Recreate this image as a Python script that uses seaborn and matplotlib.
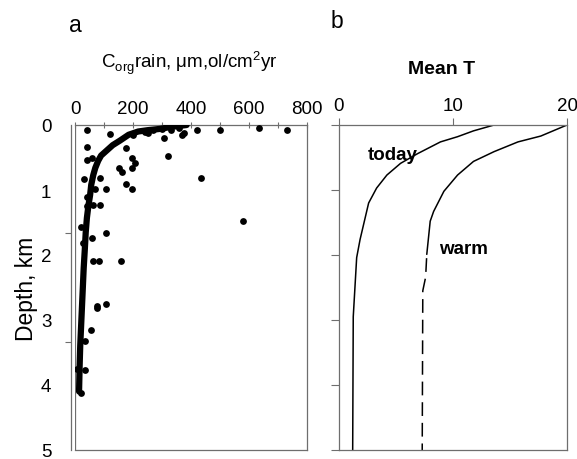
import numpy as np
import pandas as pd
import matplotlib
matplotlib.use("Agg")
import matplotlib.pyplot as plt
import seaborn as sns

sns.set_theme(style="white")
plt.rcParams["font.family"] = ["Liberation Sans", "DejaVu Sans"]
plt.rcParams["mathtext.fontset"] = "custom"
plt.rcParams["mathtext.rm"] = "Liberation Sans"
plt.rcParams["text.color"] = "black"
plt.rcParams["axes.labelcolor"] = "black"
plt.rcParams["xtick.labelcolor"] = "black"
plt.rcParams["ytick.labelcolor"] = "black"

# ---- panel a: Corg rain vs depth ----
# thick fitted curve
fit_rain = [385, 330, 293, 250, 218, 185, 155, 130, 110, 90, 80, 70, 63, 56,
            52, 46, 41, 37, 34, 30, 27, 24, 21, 18, 16, 14]
fit_depth = [0.0, 0.03, 0.06, 0.08, 0.10, 0.15, 0.24, 0.31, 0.39, 0.47, 0.55,
             0.66, 0.77, 0.92, 1.08, 1.25, 1.43, 1.65, 1.90, 2.20, 2.50, 2.80,
             3.10, 3.40, 3.70, 4.10]

# scattered observations
obs_rain = [40, 121, 420, 501, 636, 731, 368, 307, 176, 40, 321, 196, 40, 60,
            152, 161, 207, 196, 435, 31, 86, 175, 196, 107, 70, 40, 40, 86, 63,
            579, 20, 107, 27, 58, 61, 83, 159, 107, 76, 77, 55, 35, 6, 35, 20,
            240, 270, 300, 330, 360, 375, 250, 200]
obs_depth = [0.08, 0.14, 0.08, 0.08, 0.05, 0.08, 0.16, 0.20, 0.35, 0.34, 0.47,
             0.50, 0.54, 0.50, 0.66, 0.72, 0.59, 0.66, 0.81, 0.83, 0.82, 0.90,
             0.99, 0.99, 0.99, 1.10, 1.24, 1.23, 1.23, 1.48, 1.57, 1.66, 1.81,
             1.74, 2.09, 2.09, 2.09, 2.75, 2.78, 2.82, 3.15, 3.33, 3.76, 3.77,
             4.13, 0.10, 0.07, 0.06, 0.08, 0.05, 0.12, 0.12, 0.15]

# ---- panel b: mean temperature profiles ----
today_T = [13.6, 11.8, 10.4, 8.9, 6.9, 5.4, 4.2, 3.3, 2.6, 1.85, 1.55, 1.25, 1.2]
today_depth = [0.0, 0.09, 0.18, 0.26, 0.44, 0.59, 0.77, 0.97, 1.20, 1.76,
               2.04, 2.95, 5.0]

warm_T = [20.0, 17.7, 15.7, 13.6, 11.8, 10.4, 9.2, 8.3, 8.0, 7.7]
warm_depth = [0.0, 0.17, 0.26, 0.41, 0.56, 0.77, 1.02, 1.33, 1.48, 1.99]
warm_deep_T = [7.7, 7.6, 7.35, 7.3]
warm_deep_depth = [1.99, 2.34, 2.55, 5.0]

rain_ticks = [0, 200, 400, 600, 800]
depth_ticks = [0, 1, 2, 3, 4, 5]
temp_ticks = [0, 10, 20]

spine_col = "#6e6e6e"

fig = plt.figure(figsize=(5.77, 4.6), dpi=100)
ax_a = fig.add_axes([75/577, 9/460, 232/577, 325/460])
ax_b = fig.add_axes([339/577, 9/460, 228/577, 325/460])

# panel a
sns.scatterplot(x=obs_rain, y=obs_depth, ax=ax_a, color="black", s=24,
                linewidth=0, zorder=3)
sns.lineplot(x=fit_rain, y=fit_depth, ax=ax_a, sort=False, estimator=None,
             color="black", lw=4.5, zorder=4)
ax_a.set_xlim(0, 800)
ax_a.set_ylim(5, 0)
ax_a.xaxis.tick_top()
ax_a.set_xticks(rain_ticks)
ax_a.set_xticks([100, 300, 500, 700], minor=True)
ax_a.set_yticks(depth_ticks)
ax_a.set_yticks([0, 5/3, 10/3, 5], minor=True)
ax_a.tick_params(axis="x", which="both", top=True, direction="inout",
                 length=5, width=0.8, color=spine_col, labelsize=13.5, pad=3)
ax_a.tick_params(axis="y", which="major", left=True, length=0, labelsize=13.5,
                 pad=14)
ax_a.tick_params(axis="y", which="minor", left=True, direction="out",
                 length=4, width=0.8, color=spine_col)
for lab in ax_a.get_yticklabels():
    lab.set_verticalalignment("center_baseline")
ax_a.spines["left"].set_position(("outward", 3))
ax_a.axvline(0, color=spine_col, lw=0.9)
for s in ax_a.spines.values():
    s.set_color(spine_col)
    s.set_linewidth(0.9)
ax_a.set_ylabel("Depth, km", fontsize=16.5, labelpad=2)

# panel b
sns.lineplot(x=today_T, y=today_depth, ax=ax_b, sort=False, estimator=None,
             color="black", lw=1.1)
sns.lineplot(x=warm_T, y=warm_depth, ax=ax_b, sort=False, estimator=None,
             color="black", lw=1.1)
sns.lineplot(x=warm_deep_T, y=warm_deep_depth, ax=ax_b, sort=False,
             estimator=None, color="black", lw=1.1, ls=(11, (9, 4.5)))
ax_b.set_xlim(0, 20)
ax_b.set_ylim(5, 0)
ax_b.xaxis.tick_top()
ax_b.set_xticks(temp_ticks)
ax_b.set_yticks(depth_ticks)
ax_b.set_yticklabels([])
ax_b.tick_params(axis="x", top=True, direction="out", length=5, width=0.8,
                 color=spine_col, labelsize=13.5, pad=3)
ax_b.tick_params(axis="y", left=True, direction="out", length=6, width=0.8,
                 color=spine_col)
for s in ax_b.spines.values():
    s.set_color(spine_col)
    s.set_linewidth(0.9)
ax_b.text(4.7, 0.46, "today", fontsize=13.5, fontweight="bold",
          ha="center", va="center")
ax_b.text(10.9, 1.9, "warm", fontsize=13.5, fontweight="bold",
          ha="center", va="center")

# titles and panel letters
fig.text(189/577, 1 - 63/460,
         r"C$_\mathregular{org}$rain, μm,ol/cm$^\mathregular{2}$yr",
         fontsize=13.5, ha="center", va="center")
fig.text(442/577, 1 - 70/460, "Mean T", fontsize=14, fontweight="bold",
         ha="center", va="center")
fig.text(75/577, 1 - 26/460, "a", fontsize=16.5, ha="center", va="center")
fig.text(337/577, 1 - 22/460, "b", fontsize=16.5, ha="center", va="center")

fig.savefig("out.png", dpi=100)
